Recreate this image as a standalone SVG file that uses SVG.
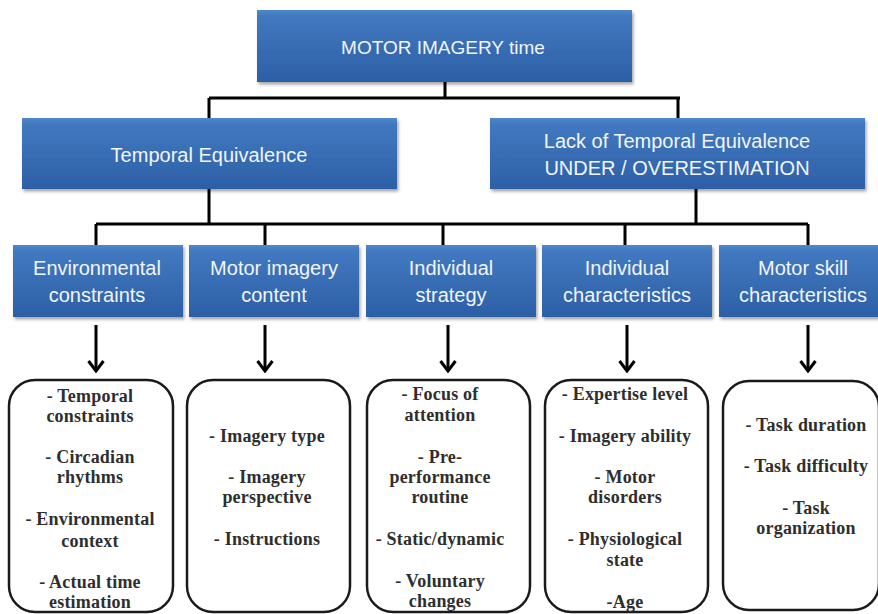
<svg xmlns="http://www.w3.org/2000/svg" width="878" height="614" viewBox="0 0 878 614">
<defs>
<linearGradient id="blue" x1="0" y1="0" x2="0" y2="1">
<stop offset="0" stop-color="#5088cc"/>
<stop offset="0.08" stop-color="#4279c0"/>
<stop offset="1" stop-color="#2c5fa6"/>
</linearGradient>
<filter id="sh" x="-5%" y="-10%" width="115%" height="130%">
<feDropShadow dx="1.5" dy="2.5" stdDeviation="1.5" flood-color="#000" flood-opacity="0.35"/>
</filter>
<marker id="arr" viewBox="0 0 13 18" refX="11" refY="9" markerWidth="13" markerHeight="18" markerUnits="userSpaceOnUse" orient="auto">
<path d="M1,1.5 L11,9 L1,16.5" fill="none" stroke="#000" stroke-width="3"/>
</marker>
</defs>
<style>
.bx{fill:url(#blue);filter:url(#sh)}
.bt{font-family:"Liberation Sans",Arial,sans-serif;fill:#f2f5fa;text-anchor:middle}
.rb{fill:#fff;stroke:#1a1a1a;stroke-width:2.5}
.lt{font-family:"Liberation Serif","Times New Roman",serif;font-weight:bold;font-size:18px;fill:#2e2e2e;text-anchor:middle;letter-spacing:0.2px}
.cn{fill:none;stroke:#000;stroke-width:3}
</style>
<rect width="878" height="614" fill="#fff"/>

<g id="connectors">
<path class="cn" d="M445,82 V98 M209,98 H680 M209,98 V118 M678,98 V118"/>
<path class="cn" d="M209,189 V224 M696,189 V224 M96,224 H808 M96,224 V245 M265,224 V245 M443,224 V245 M625,224 V245 M808,224 V245"/>
<path class="cn" marker-end="url(#arr)" d="M96,325 V371"/>
<path class="cn" marker-end="url(#arr)" d="M265,325 V371"/>
<path class="cn" marker-end="url(#arr)" d="M448,325 V371"/>
<path class="cn" marker-end="url(#arr)" d="M627,325 V371"/>
<path class="cn" marker-end="url(#arr)" d="M808,325 V371"/>
</g>

<g id="root">
<rect class="bx" x="257" y="10" width="375" height="72"/>
<text class="bt" x="443" y="54" font-size="19">MOTOR IMAGERY time</text>
</g>

<g id="temporal-equivalence">
<rect class="bx" x="22" y="118" width="375" height="71"/>
<text class="bt" x="209" y="162" font-size="20">Temporal Equivalence</text>
</g>

<g id="lack-temporal-equivalence">
<rect class="bx" x="490" y="118" width="375" height="71"/>
<text class="bt" x="677" y="148" font-size="20">Lack of Temporal Equivalence</text>
<text class="bt" x="677" y="175" font-size="20">UNDER / OVERESTIMATION</text>
</g>

<g id="environmental-constraints">
<rect class="bx" x="13" y="245" width="170" height="72"/>
<text class="bt" x="97" y="275" font-size="20">Environmental</text>
<text class="bt" x="97" y="302" font-size="20">constraints</text>
</g>

<g id="motor-imagery-content">
<rect class="bx" x="189" y="245" width="170" height="72"/>
<text class="bt" x="274" y="275" font-size="20">Motor imagery</text>
<text class="bt" x="274" y="302" font-size="20">content</text>
</g>

<g id="individual-strategy">
<rect class="bx" x="366" y="245" width="170" height="72"/>
<text class="bt" x="451" y="275" font-size="20">Individual</text>
<text class="bt" x="451" y="302" font-size="20">strategy</text>
</g>

<g id="individual-characteristics">
<rect class="bx" x="542" y="245" width="170" height="72"/>
<text class="bt" x="627" y="275" font-size="20">Individual</text>
<text class="bt" x="627" y="302" font-size="20">characteristics</text>
</g>

<g id="motor-skill-characteristics">
<rect class="bx" x="719" y="245" width="170" height="72"/>
<text class="bt" x="803" y="275" font-size="20">Motor skill</text>
<text class="bt" x="803" y="302" font-size="20">characteristics</text>
</g>

<g id="list-environmental">
<rect class="rb" x="9" y="380" width="164" height="232" rx="26"/>
<text class="lt" x="90" y="402">- Temporal</text>
<text class="lt" x="90" y="422">constraints</text>
<text class="lt" x="90" y="463">- Circadian</text>
<text class="lt" x="90" y="483">rhythms</text>
<text class="lt" x="90" y="525">- Environmental</text>
<text class="lt" x="90" y="547">context</text>
<text class="lt" x="90" y="588">- Actual time</text>
<text class="lt" x="90" y="608">estimation</text>
</g>

<g id="list-content">
<rect class="rb" x="187" y="380" width="163" height="232" rx="26"/>
<text class="lt" x="267" y="442">- Imagery type</text>
<text class="lt" x="267" y="483">- Imagery</text>
<text class="lt" x="267" y="503">perspective</text>
<text class="lt" x="267" y="545">- Instructions</text>
</g>

<g id="list-strategy">
<rect class="rb" x="367" y="380" width="163" height="232" rx="26"/>
<text class="lt" x="440" y="400">- Focus of</text>
<text class="lt" x="440" y="421">attention</text>
<text class="lt" x="440" y="463">- Pre-</text>
<text class="lt" x="440" y="483">performance</text>
<text class="lt" x="440" y="503">routine</text>
<text class="lt" x="440" y="545">- Static/dynamic</text>
<text class="lt" x="440" y="587">- Voluntary</text>
<text class="lt" x="440" y="607">changes</text>
</g>

<g id="list-characteristics">
<rect class="rb" x="545" y="380" width="163" height="232" rx="26"/>
<text class="lt" x="625" y="400">- Expertise level</text>
<text class="lt" x="625" y="442">- Imagery ability</text>
<text class="lt" x="625" y="483">- Motor</text>
<text class="lt" x="625" y="503">disorders</text>
<text class="lt" x="625" y="545">- Physiological</text>
<text class="lt" x="625" y="566">state</text>
<text class="lt" x="625" y="608">-Age</text>
</g>

<g id="list-skill">
<rect class="rb" x="723" y="381" width="156" height="229" rx="26"/>
<text class="lt" x="806" y="431">- Task duration</text>
<text class="lt" x="806" y="472">- Task difficulty</text>
<text class="lt" x="806" y="514">- Task</text>
<text class="lt" x="806" y="534">organization</text>
</g>
</svg>
